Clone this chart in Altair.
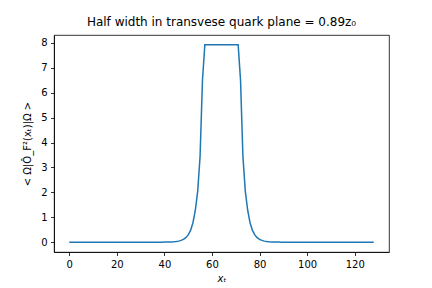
import altair as alt
import pandas as pd

x_vals = list(range(129))
y_vals = [
    0, 0, 0, 0, 0, 0, 0, 0, 0, 0,
    0, 0, 0, 0, 0, 0, 0, 0, 0, 0,
    0, 0, 0, 0, 0, 0, 0, 0, 0, 0,
    0, 0, 0, 0, 0, 0, 0, 0, 0, 0,
    0.002, 0.004, 0.006, 0.01, 0.015, 0.025, 0.04, 0.07, 0.11, 0.18,
    0.29, 0.47, 0.78, 1.28, 2.05, 3.45, 6.5, 7.92, 7.92, 7.92,
    7.92, 7.92, 7.92, 7.92, 7.92, 7.92, 7.92, 7.92, 7.92, 7.92,
    7.92, 7.92, 6.5, 3.45, 2.05, 1.28, 0.78, 0.47, 0.29, 0.18,
    0.11, 0.07, 0.04, 0.025, 0.015, 0.01, 0.006, 0.004, 0.002, 0,
    0, 0, 0, 0, 0, 0, 0, 0, 0, 0,
    0, 0, 0, 0, 0, 0, 0, 0, 0, 0,
    0, 0, 0, 0, 0, 0, 0, 0, 0, 0,
    0, 0, 0, 0, 0, 0, 0, 0, 0,
]
x_ticks = [0, 20, 40, 60, 80, 100, 120]
y_ticks = [0, 1, 2, 3, 4, 5, 6, 7, 8]

df = pd.DataFrame({"x": x_vals, "y": y_vals})

FONT = "DejaVu Sans"

chart = (
    alt.Chart(df)
    .mark_line(color="#1f77b4", strokeWidth=1.5)
    .encode(
        x=alt.X(
            "x:Q",
            scale=alt.Scale(domain=[-6.4, 134.4], nice=False, zero=False),
            axis=alt.Axis(values=x_ticks, title="xₜ", titleFontStyle="italic",
                          titlePadding=4),
        ),
        y=alt.Y(
            "y:Q",
            scale=alt.Scale(domain=[-0.396, 8.316], nice=False, zero=False),
            axis=alt.Axis(values=y_ticks, title="< Ω|Ô_F²(xₜ)|Ω >", titlePadding=8),
        ),
    )
    .properties(
        width=335,
        height=217,
        title=alt.TitleParams(
            "Half width in transvese quark plane = 0.89z₀",
            font=FONT, fontSize=12, fontWeight="normal", color="black", offset=6,
        ),
        padding={"left": 46, "top": 27, "right": 35, "bottom": 36},
        autosize=alt.AutoSizeParams(type="none"),
    )
    .configure_view(stroke="black", strokeWidth=0.8)
    .configure_axis(
        grid=False,
        domainColor="black",
        domainWidth=0.8,
        tickColor="black",
        tickWidth=0.8,
        tickSize=3.5,
        labelFont=FONT,
        labelFontSize=10,
        labelColor="black",
        labelPadding=3.5,
        titleFont=FONT,
        titleFontSize=10,
        titleFontWeight="normal",
        titleColor="black",
    )
)

chart.save("out.html", embed_options={"renderer": "svg", "actions": False})
